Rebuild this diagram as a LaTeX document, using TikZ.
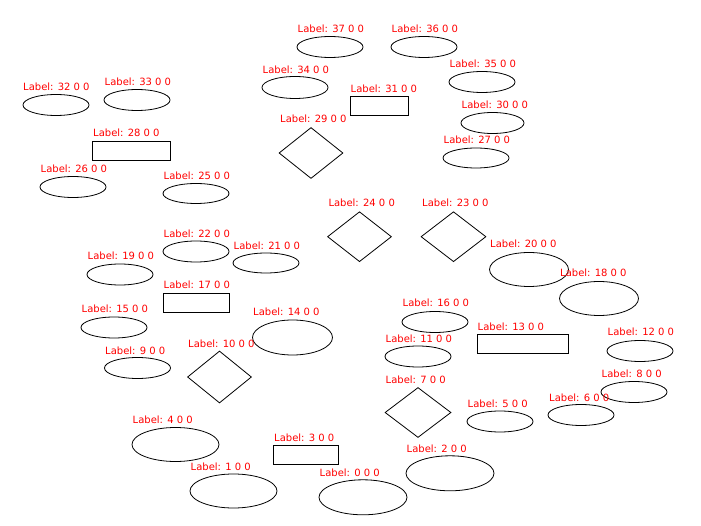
\documentclass[tikz,border=0pt]{standalone}
\usepackage{fontspec}
\setmainfont{DejaVu Sans}
\usetikzlibrary{shapes.geometric}
\tikzset{
  ell/.style={draw=black, line width=0.8pt, ellipse, inner sep=0pt},
  box/.style={draw=black, line width=0.8pt, rectangle, inner sep=0pt},
  dia/.style={draw=black, line width=0.8pt, diamond, inner sep=0pt},
  lab/.style={anchor=base west, text=red, inner sep=0pt, font=\fontsize{10pt}{12pt}\selectfont}
}
\begin{document}
\begin{tikzpicture}[x=1pt,y=-1pt]
\useasboundingbox (0,0) rectangle (701,526);
% shapes
\node[ell, minimum width=66pt, minimum height=21pt] (s37) at (330,47) {};
\node[ell, minimum width=66pt, minimum height=21pt] (s36) at (424,47) {};
\node[ell, minimum width=66pt, minimum height=22pt] (s34) at (295,87.5) {};
\node[ell, minimum width=66pt, minimum height=21pt] (s35) at (482,82) {};
\node[box, minimum width=58pt, minimum height=19pt] (s31) at (379,106) {};
\node[ell, minimum width=63pt, minimum height=21pt] (s30) at (492.5,123) {};
\node[dia, minimum width=64pt, minimum height=51pt] (s29) at (311,153) {};
\node[ell, minimum width=66pt, minimum height=20pt] (s27) at (476,158) {};
\node[ell, minimum width=66pt, minimum height=21pt] (s32) at (56,105) {};
\node[ell, minimum width=66pt, minimum height=21pt] (s33) at (137,100) {};
\node[box, minimum width=78pt, minimum height=19pt] (s28) at (131.5,150.5) {};
\node[ell, minimum width=66pt, minimum height=21pt] (s26) at (73,187) {};
\node[ell, minimum width=66pt, minimum height=20pt] (s25) at (196,193.5) {};
\node[dia, minimum width=64pt, minimum height=50pt] (s24) at (359.5,236.7) {};
\node[dia, minimum width=65pt, minimum height=50pt] (s23) at (453.5,236.7) {};
\node[ell, minimum width=79pt, minimum height=34pt] (s20) at (529,269.5) {};
\node[ell, minimum width=79pt, minimum height=34pt] (s18) at (599,298.5) {};
\node[ell, minimum width=66pt, minimum height=21pt] (s16) at (435,322) {};
\node[box, minimum width=91pt, minimum height=19pt] (s13) at (523,344) {};
\node[ell, minimum width=66pt, minimum height=21pt] (s12) at (640,351) {};
\node[ell, minimum width=66pt, minimum height=21pt] (s11) at (418,356.5) {};
\node[ell, minimum width=66pt, minimum height=21pt] (s8) at (634,392) {};
\node[dia, minimum width=66pt, minimum height=50pt] (s7) at (418,412.5) {};
\node[ell, minimum width=66pt, minimum height=21pt] (s6) at (581,415) {};
\node[ell, minimum width=66pt, minimum height=21pt] (s5) at (500,421.5) {};
\node[ell, minimum width=66pt, minimum height=21pt] (s22) at (196,251.5) {};
\node[ell, minimum width=66pt, minimum height=20pt] (s21) at (266,263) {};
\node[ell, minimum width=66pt, minimum height=21pt] (s19) at (120,274.5) {};
\node[box, minimum width=66pt, minimum height=19pt] (s17) at (196,302.5) {};
\node[ell, minimum width=66pt, minimum height=21pt] (s15) at (114,327.5) {};
\node[ell, minimum width=80pt, minimum height=35pt] (s14) at (292.5,337.5) {};
\node[ell, minimum width=66pt, minimum height=21pt] (s9) at (137.5,368) {};
\node[dia, minimum width=64pt, minimum height=52pt] (s10) at (219.5,377) {};
\node[ell, minimum width=87pt, minimum height=34pt] (s4) at (175.5,444.5) {};
\node[box, minimum width=65pt, minimum height=19pt] (s3) at (306,454.5) {};
\node[ell, minimum width=87pt, minimum height=34pt] (s1) at (233.5,491) {};
\node[ell, minimum width=88pt, minimum height=35pt] (s0) at (363,497.3) {};
\node[ell, minimum width=88pt, minimum height=35pt] (s2) at (450,473.3) {};
% labels
\node[lab] (l37) at (297.5,33) {Label: 37 0 0};
\node[lab] (l36) at (391.5,33) {Label: 36 0 0};
\node[lab] (l34) at (262.5,73.7) {Label: 34 0 0};
\node[lab] (l35) at (449.5,68) {Label: 35 0 0};
\node[lab] (l31) at (350.5,92.4) {Label: 31 0 0};
\node[lab] (l30) at (461.5,108.4) {Label: 30 0 0};
\node[lab] (l29) at (280,123) {Label: 29 0 0};
\node[lab] (l27) at (443.5,143.7) {Label: 27 0 0};
\node[lab] (l32) at (23,91) {Label: 32 0 0};
\node[lab] (l33) at (104.5,85.4) {Label: 33 0 0};
\node[lab] (l28) at (93,137) {Label: 28 0 0};
\node[lab] (l26) at (40.5,173) {Label: 26 0 0};
\node[lab] (l25) at (163.5,179.4) {Label: 25 0 0};
\node[lab] (l24) at (328.3,207) {Label: 24 0 0};
\node[lab] (l23) at (422,207) {Label: 23 0 0};
\node[lab] (l20) at (490,248) {Label: 20 0 0};
\node[lab] (l18) at (560,277) {Label: 18 0 0};
\node[lab] (l16) at (402.5,307) {Label: 16 0 0};
\node[lab] (l13) at (477.5,330.4) {Label: 13 0 0};
\node[lab] (l12) at (607.5,336) {Label: 12 0 0};
\node[lab] (l11) at (385.5,342) {Label: 11 0 0};
\node[lab] (l8) at (601.5,377) {Label: 8 0 0};
\node[lab] (l7) at (385.5,383) {Label: 7 0 0};
\node[lab] (l6) at (549,401.4) {Label: 6 0 0};
\node[lab] (l5) at (467.5,407) {Label: 5 0 0};
\node[lab] (l22) at (163.5,237.4) {Label: 22 0 0};
\node[lab] (l21) at (233.5,249.4) {Label: 21 0 0};
\node[lab] (l19) at (87.5,260) {Label: 19 0 0};
\node[lab] (l17) at (163.5,289) {Label: 17 0 0};
\node[lab] (l15) at (81.5,313) {Label: 15 0 0};
\node[lab] (l14) at (253,316) {Label: 14 0 0};
\node[lab] (l9) at (105,354) {Label: 9 0 0};
\node[lab] (l10) at (188,347.4) {Label: 10 0 0};
\node[lab] (l4) at (132.5,423) {Label: 4 0 0};
\node[lab] (l3) at (274,441.4) {Label: 3 0 0};
\node[lab] (l1) at (190.5,470) {Label: 1 0 0};
\node[lab] (l0) at (319.5,476) {Label: 0 0 0};
\node[lab] (l2) at (406.5,452) {Label: 2 0 0};
\end{tikzpicture}
\end{document}
